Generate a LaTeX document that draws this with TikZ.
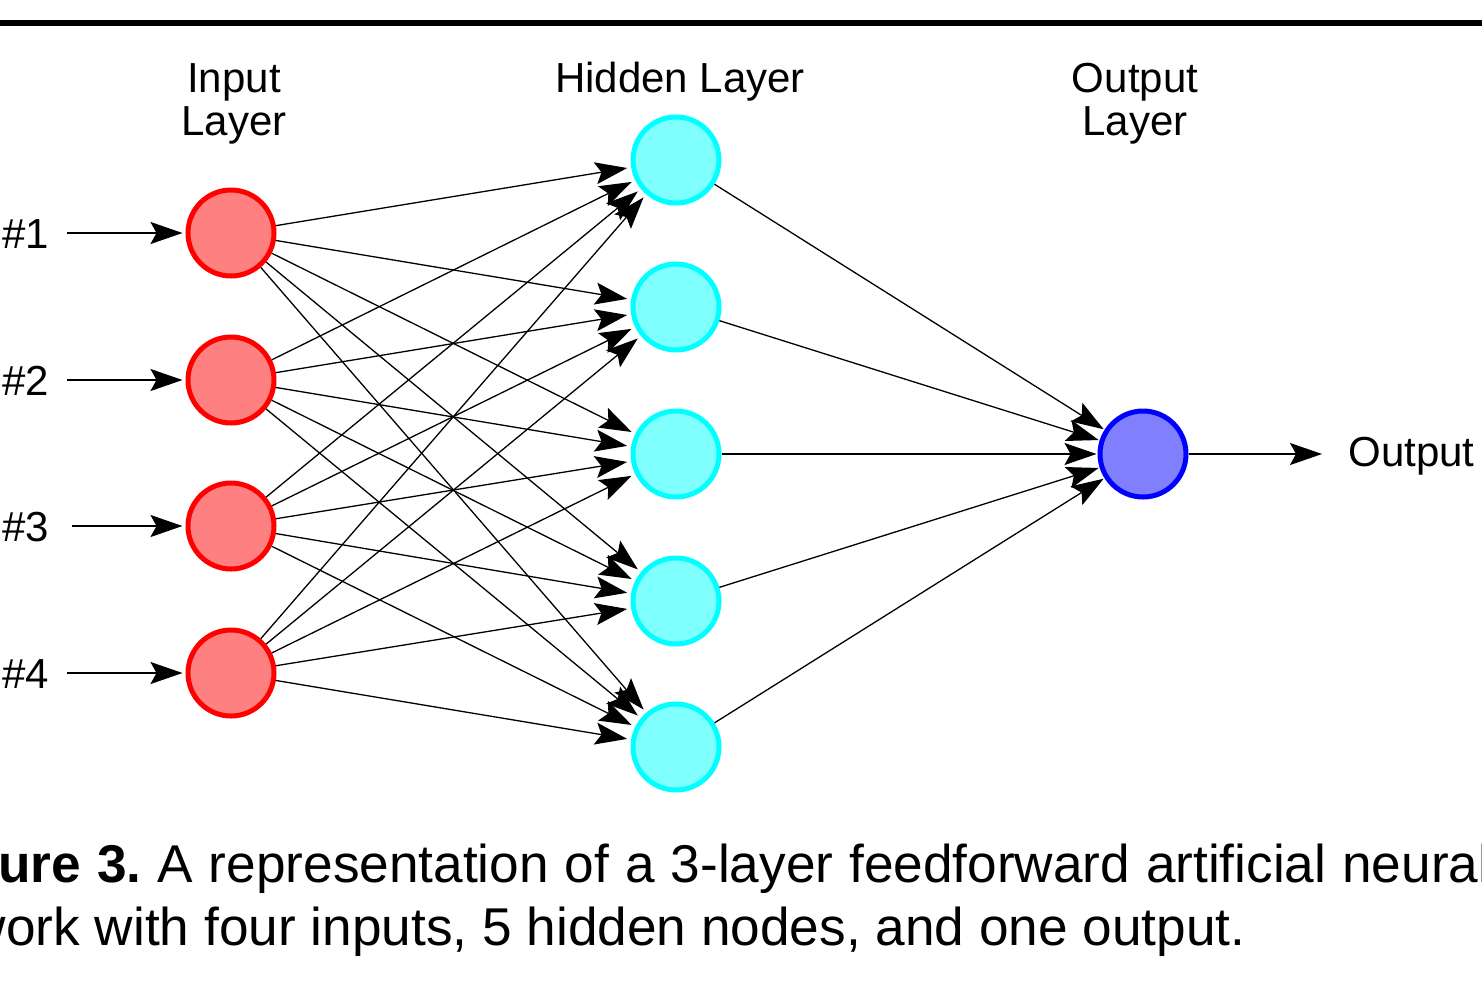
\documentclass[tikz,border=0pt]{standalone}
\usepackage{fontspec}
\setmainfont{Liberation Sans}
\usetikzlibrary{arrows.meta}
\definecolor{inred}{RGB}{255,0,0}
\definecolor{infill}{RGB}{255,128,128}
\definecolor{hidcyan}{RGB}{0,255,255}
\definecolor{hidfill}{RGB}{128,255,255}
\definecolor{outblue}{RGB}{0,0,255}
\definecolor{outfill}{RGB}{128,128,255}
\begin{document}
\begin{tikzpicture}[x=0.5pt,y=-0.5pt,
  neuron/.style={circle, inner sep=0pt, minimum size=43pt, line width=2.5pt},
  innode/.style={neuron, draw=inred, fill=infill},
  hidnode/.style={neuron, draw=hidcyan, fill=hidfill},
  outnode/.style={neuron, draw=outblue, fill=outfill},
  arrtip/.style={-{Stealth[length=16pt,width=11pt,inset=3pt]}},
  conn/.style={arrtip, line width=0.65pt, shorten >=2pt},
  feed/.style={arrtip, line width=1pt, shorten >=1.5pt},
  lbl/.style={font=\fontsize{21}{21.5}\selectfont, align=center, inner sep=0pt},
  captxt/.style={font=\fontsize{26.6}{31.5}\selectfont\frenchspacing, inner sep=0pt}]
\useasboundingbox (0,0) rectangle (1482,991);
\fill[white] (0,0) rectangle (1482,991);
\draw[line width=3pt] (0,23) -- (1482,23);
% headers
\node[lbl, anchor=base] (hin) at (234,135) {Input\\Layer};
\node[lbl, anchor=base] (hhid) at (680,92) {Hidden Layer};
\node[lbl, anchor=base] (hout) at (1135,135) {Output\\Layer};
% input nodes
\foreach \i/\y in {1/233,2/380,3/526,4/673}{
  \node[innode] (i\i) at (231,\y) {};
  \node[lbl, anchor=base west] (l\i) at (2,\y+15) {\#\i};
}
\coordinate (s1) at (67,233);
\coordinate (s2) at (67,380);
\coordinate (s3) at (72,526);
\coordinate (s4) at (67,673);
\foreach \i in {1,...,4}{\draw[feed] (s\i) -- (i\i);}
% hidden nodes
\foreach \j/\y in {1/160,2/307,3/454,4/601,5/747}{
  \node[hidnode] (h\j) at (676,\y) {};
}
% output node
\node[outnode] (o) at (1143,454) {};
\coordinate (oend) at (1325,454);
\node[lbl, anchor=base west] (otxt) at (1348,466) {Output};
% connections
\foreach \i in {1,...,4}{
  \foreach \j in {1,...,5}{
    \draw[conn] (i\i) -- (h\j);
  }
}
\foreach \j in {1,...,5}{\draw[conn, shorten >=0.5pt] (h\j) -- (o);}
\draw[feed] (o) -- (oend);
% caption
\node[captxt, anchor=base west] (cap1) at (-2,882) {\llap{\textbf{Fig}}\hbox to 746pt{\textbf{ure 3.} A representation of a 3-layer feedforward artificial neural}};
\node[captxt, anchor=base east] (cap2) at (1246,945) {network with four inputs, 5 hidden nodes, and one output.};
\end{tikzpicture}
\end{document}
